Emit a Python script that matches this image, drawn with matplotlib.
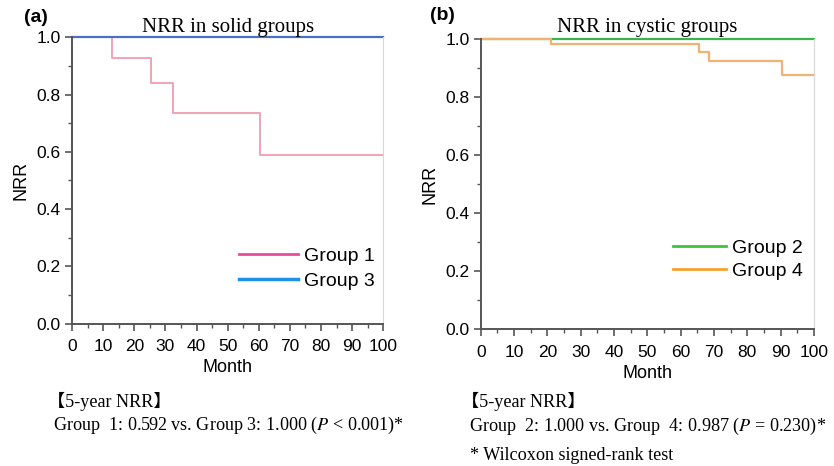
import matplotlib
matplotlib.use("Agg")
import matplotlib.pyplot as plt
from matplotlib.lines import Line2D
from matplotlib.ticker import MultipleLocator

# ---- data ----
g1_month = [0, 13, 25.5, 32.5, 60.5, 100]
g1_nrr = [1.0, 0.926, 0.842, 0.735, 0.588, 0.588]
g3_month = [0, 100]
g3_nrr = [1.0, 1.0]

g2_month = [0, 100]
g2_nrr = [1.0, 1.0]
g4_month = [0, 21, 65.5, 68.5, 90.5, 100]
g4_nrr = [1.0, 0.985, 0.955, 0.925, 0.877, 0.877]

x_ticks = list(range(0, 101, 10))
y_ticks = [0.0, 0.2, 0.4, 0.6, 0.8, 1.0]

plt.rcParams["font.family"] = ["Liberation Sans", "DejaVu Sans"]
plt.rcParams["mathtext.fontset"] = "stix"
SERIF = ["Liberation Serif", "Noto Sans CJK JP", "DejaVu Sans"]

W, H = 834, 466
fig = plt.figure(figsize=(W / 100, H / 100), dpi=100)
ax_a = fig.add_axes([72 / W, 1 - 323.5 / H, 311.3 / W, 286.2 / H])
ax_b = fig.add_axes([480.7 / W, 1 - 329.3 / H, 333.3 / W, 290 / H])


def style(ax):
    ax.set_xlim(0, 100)
    ax.set_ylim(0, 1.0)
    ax.set_xticks(x_ticks)
    ax.set_yticks(y_ticks)
    ax.set_yticklabels([f"{v:.1f}" for v in y_ticks])
    ax.xaxis.set_minor_locator(MultipleLocator(5))
    ax.yaxis.set_minor_locator(MultipleLocator(0.1))
    ax.tick_params(which="major", direction="out", length=5, width=1.2,
                   color="#555555", labelsize=12.5)
    ax.tick_params(axis="x", which="major", pad=6)
    ax.tick_params(axis="y", which="major", pad=3)
    ax.tick_params(which="minor", direction="out", length=3, width=1.0,
                   color="#555555")
    ax.spines["top"].set_visible(False)
    ax.spines["right"].set_color("#d8d8d8")
    ax.spines["right"].set_linewidth(0.8)
    for s in ("left", "bottom"):
        ax.spines[s].set_color("#555555")
        ax.spines[s].set_linewidth(1.4)
    ax.set_xlabel("Month", fontsize=13, labelpad=4)
    ax.set_ylabel("NRR", fontsize=13, labelpad=5)


# (a) solid groups
ax_a.step(g1_month, g1_nrr, where="post", color="#f2a3b6", lw=1.4, clip_on=False)
ax_a.step(g3_month, g3_nrr, where="post", color="#4a70c4", lw=1.6, clip_on=False)
style(ax_a)
ax_a.set_title("NRR in solid groups", fontsize=15, family=SERIF, pad=4)
h_a = [Line2D([], [], color="#ec4a9c", lw=2), Line2D([], [], color="#1e90e6", lw=2.5)]
ax_a.legend(h_a, ["Group 1", "Group 3"], loc="center left",
            bbox_to_anchor=(239 / W, 1 - 268.5 / H), bbox_transform=fig.transFigure,
            frameon=False, fontsize=14, handlelength=3.05, handletextpad=0.3,
            labelspacing=0.36, borderpad=0, borderaxespad=0)

# (b) cystic groups
ax_b.step(g2_month, g2_nrr, where="post", color="#3cb44b", lw=1.6, clip_on=False)
ax_b.step(g4_month, g4_nrr, where="post", color="#f3b173", lw=1.6, clip_on=False)
style(ax_b)
ax_b.set_title("NRR in cystic groups", fontsize=15, family=SERIF, pad=5)
h_b = [Line2D([], [], color="#3cc43c", lw=2), Line2D([], [], color="#f5a030", lw=2)]
ax_b.legend(h_b, ["Group 2", "Group 4"], loc="center left",
            bbox_to_anchor=(673 / W, 1 - 259.5 / H), bbox_transform=fig.transFigure,
            frameon=False, fontsize=14, handlelength=2.7, handletextpad=0.36,
            labelspacing=0.26, borderpad=0, borderaxespad=0)

# panel letters
fig.text(24 / W, 1 - 18 / H, "(a)", fontsize=14, fontweight="bold", va="center")
fig.text(430 / W, 1 - 16 / H, "(b)", fontsize=14, fontweight="bold", va="center")

# notes below the panels
NOTE = 13.1
fig.text(47 / W, 1 - 401 / H, "【5-year NRR】", fontsize=NOTE, family=SERIF, va="center")
fig.text(53 / W, 1 - 425 / H, "Group  1: 0.592 vs. Group 3: 1.000 ($P$ < 0.001)*",
         fontsize=NOTE, family=SERIF, va="center")
fig.text(461 / W, 1 - 401 / H, "【5-year NRR】", fontsize=NOTE, family=SERIF, va="center")
fig.text(469 / W, 1 - 426 / H, "Group  2: 1.000 vs. Group  4: 0.987 ($P$ = 0.230)*",
         fontsize=NOTE, family=SERIF, va="center")
fig.text(470 / W, 1 - 455 / H, "* Wilcoxon signed-rank test",
         fontsize=NOTE, family=SERIF, va="center")

fig.savefig("out.png", dpi=100)
